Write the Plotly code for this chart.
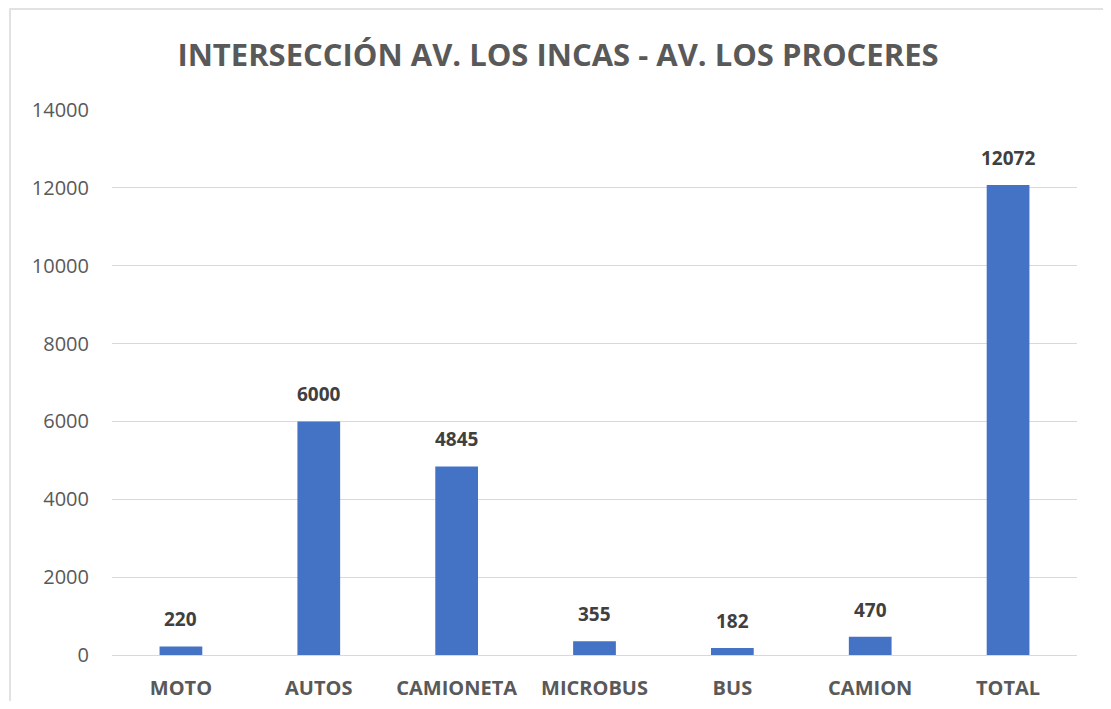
import plotly.graph_objects as go

categories = ["MOTO", "AUTOS", "CAMIONETA", "MICROBUS", "BUS", "CAMION", "TOTAL"]
values = [220, 6000, 4845, 355, 182, 470, 12072]
y_ticks = [0, 2000, 4000, 6000, 8000, 10000, 12000, 14000]

fig = go.Figure(go.Bar(
    x=categories, y=values,
    marker_color="#4472C4", marker_line_width=0,
    width=0.31,
    hoverinfo="x+y",
))

# figure is drawn inside the page's default 8px body margin
W, H = 1100, 693
L, R, T, B = 104, 31, 102, 46
pw, ph = W - L - R, H - T - B

def px(x): return (x - L) / pw
def py(y): return (H - B - y) / ph

annotations = [
    dict(x=c, y=v, xref="x", yref="y", text=f"<b>{v}</b>", showarrow=False,
         yanchor="bottom", yshift=12,
         font=dict(family="Open Sans", size=19, color="#404040"))
    for c, v in zip(categories, values)
]

fig.update_layout(
    width=W, height=H,
    margin=dict(l=L, r=R, t=T, b=B),
    paper_bgcolor="white", plot_bgcolor="white",
    title=dict(text="<b>INTERSECCIÓN AV. LOS INCAS - AV. LOS PROCERES</b>",
               x=0.5, xanchor="center", y=1 - 47 / H, yanchor="middle",
               font=dict(family="Open Sans", size=31, color="#595959")),
    showlegend=False,
    annotations=annotations,
    xaxis=dict(showgrid=False, showline=False, ticks="", automargin=False,
               tickfont=dict(family="Open Sans", size=20, color="#595959"),
               ticklabelstandoff=19,
               tickprefix="<b>", ticksuffix="</b>"),
    yaxis=dict(range=[0, 14000], tickvals=y_ticks, tickformat="d",
               showgrid=True, automargin=False,
               gridcolor="#D9D9D9", gridwidth=1, zeroline=True,
               zerolinecolor="#D9D9D9", zerolinewidth=1, showline=False,
               tickfont=dict(family="Open Sans", size=20, color="#595959"),
               ticklabelstandoff=22),
    shapes=[dict(type="rect", xref="paper", yref="paper",
                 x0=px(2), x1=px(1099), y0=py(H + 10), y1=py(1),
                 line=dict(color="#D9D9D9", width=1.5), layer="below")],
)

fig.write_html("out.html")
